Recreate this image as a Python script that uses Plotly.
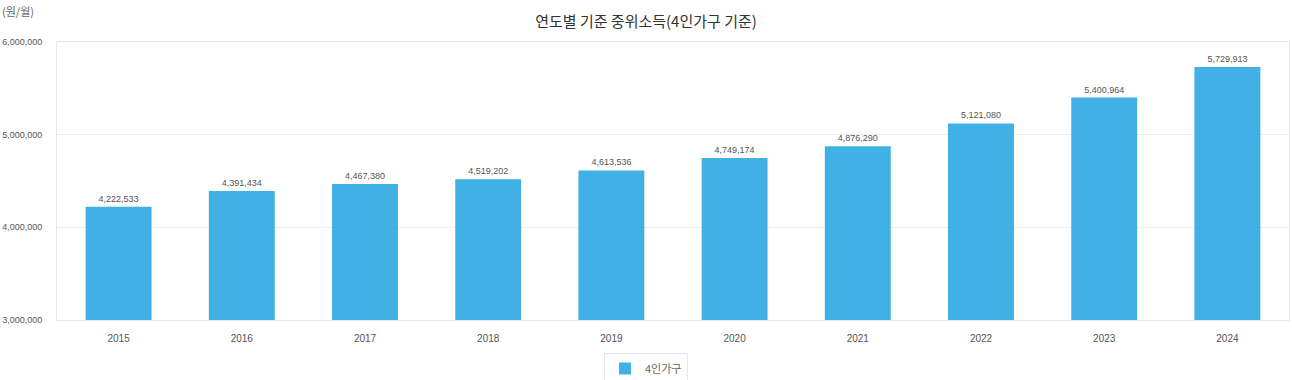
import plotly.graph_objects as go

years = ["2015", "2016", "2017", "2018", "2019", "2020", "2021", "2022", "2023", "2024"]
income = [4222533, 4391434, 4467380, 4519202, 4613536, 4749174, 4876290, 5121080, 5400964, 5729913]
ytick_vals = [3000000, 4000000, 5000000, 6000000]
series_name = "4인가구"

FONT = "Liberation Sans, Arial, Noto Sans CJK KR, sans-serif"
KFONT = "Noto Sans CJK KR, sans-serif"

fig = go.Figure()
fig.add_trace(go.Bar(
    x=years, y=income, name=series_name,
    marker=dict(color="#41b1e5", line=dict(width=0)),
    text=[f"{v:,}" for v in income],
    textposition="outside",
    textfont=dict(size=9, color="#555555", family=FONT),
    cliponaxis=False,
    showlegend=True,
))

fig.update_layout(
    width=1292, height=380,
    margin=dict(l=57, r=3, t=42, b=60, autoexpand=False),
    paper_bgcolor="white", plot_bgcolor="white",
    bargap=0.465,
    title=dict(text="연도별 기준 중위소득(4인가구 기준)", x=0.5, xanchor="center",
               xref="container", yref="container",
               y=1 - 22 / 380, yanchor="middle",
               font=dict(size=15, color="#333333", family=KFONT)),
    font=dict(family=FONT, size=9.5, color="#555555"),
    xaxis=dict(showgrid=False, showline=True, linecolor="#e6e6e6", mirror=True,
               ticks="", ticklabelstandoff=9, automargin=False,
               tickfont=dict(size=10, color="#555555")),
    yaxis=dict(range=[3000000, 6000000], tickvals=ytick_vals,
               ticktext=[f"{v:,}" for v in ytick_vals],
               showgrid=True, gridcolor="#eeeeee", zeroline=False,
               showline=True, linecolor="#e6e6e6", mirror=True,
               ticks="", ticklabelstandoff=12, automargin=False,
               tickfont=dict(size=9, color="#555555")),
    legend=dict(orientation="h", xref="container", x=0.5, xanchor="center",
                y=-33 / 278, yanchor="top",
                bordercolor="#e6e6e6", borderwidth=1, itemwidth=30,
                font=dict(size=11, color="#666666", family=KFONT)),
    annotations=[dict(text="(원/월)", x=0, y=1, xref="paper", yref="paper",
                      xanchor="left", yanchor="top", showarrow=False,
                      xshift=-57, yshift=41,
                      font=dict(size=11, color="#666666", family=KFONT))],
)

fig.write_html("out.html", config={"displayModeBar": False},
               post_script="document.body.style.margin='0';document.body.style.overflow='hidden';")
